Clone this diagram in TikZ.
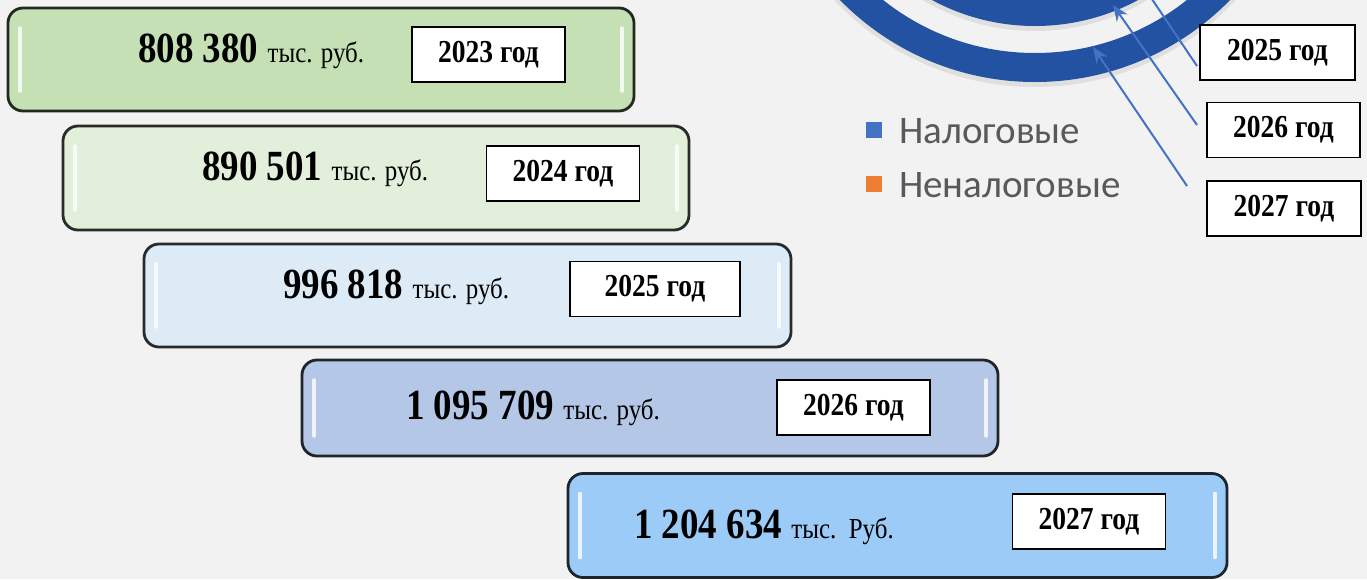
\documentclass[tikz,border=0pt]{standalone}
\usepackage{fontspec}
\setmainfont{Liberation Serif}[FakeStretch=0.86]
\newfontfamily\legendfamily{Carlito}
\usetikzlibrary{arrows.meta}

\definecolor{bgcol}{HTML}{F2F2F2}
\definecolor{barA}{HTML}{C5E0B4}
\definecolor{barB}{HTML}{E2EFDA}
\definecolor{barC}{HTML}{DDEBF7}
\definecolor{barD}{HTML}{B4C7E7}
\definecolor{barE}{HTML}{9DCBF8}
\definecolor{ringblue}{HTML}{2352A3}
\definecolor{taxblue}{HTML}{4472C4}
\definecolor{nontaxorange}{HTML}{ED7D31}
\definecolor{legendgrey}{HTML}{595959}

\newcommand{\valnum}{\fontsize{43}{45}\selectfont\bfseries}
\newcommand{\valunit}{\fontsize{29}{31}\selectfont\mdseries}
\newcommand{\yearsize}{\fontsize{32}{34}\selectfont\bfseries}

\tikzset{
  bar/.style={fill=#1, draw=black!82!#1, line width=2.8pt, rounded corners=15pt, inner sep=0pt,
    path picture={
      \draw[white, line width=3.5pt, line cap=round, opacity=.8]
        ([xshift=12pt,yshift=-20pt]path picture bounding box.north west) --
        ([xshift=12pt,yshift=20pt]path picture bounding box.south west);
      \draw[white, line width=3.5pt, line cap=round, opacity=.8]
        ([xshift=-12pt,yshift=-20pt]path picture bounding box.north east) --
        ([xshift=-12pt,yshift=20pt]path picture bounding box.south east);
    }},
  value/.style={anchor=base west, inner sep=0pt},
  yearbox/.style={draw=black, fill=white, line width=1.5pt, minimum width=153pt, minimum height=55pt,
    inner sep=0pt, font=\yearsize},
  pointer/.style={draw=taxblue, line width=2pt, -{Stealth[length=16pt,width=13pt]}},
  ring/.style={draw=ringblue, line width=#1},
  legendkey/.style={minimum size=15.5pt, inner sep=0pt},
  legendtext/.style={anchor=west, inner sep=0pt, text=legendgrey, font=\legendfamily\fontsize{39}{41}\selectfont}
}

\begin{document}
\begin{tikzpicture}[x=1pt, y=-1pt]
  \clip (0,0) rectangle (1367,579);
  \fill[bgcol] (0,0) rectangle (1367,579);

  % doughnut rings, top right
  \coordinate (ctr) at (1035,-191);
  \draw[black, opacity=.08, line width=33pt] ([yshift=-3pt]ctr) circle[radius=258.5pt];
  \draw[black, opacity=.08, line width=31pt] ([yshift=-3pt]ctr) circle[radius=203.5pt];
  \draw[ring=29pt] (ctr) circle[radius=258.5pt];
  \draw[ring=27pt] (ctr) circle[radius=203.5pt];

  % bars
  \node[bar=barA, minimum width=626pt, minimum height=103pt] (bar23) at (321,59.5) {};
  \node[bar=barB, minimum width=626pt, minimum height=104pt] (bar24) at (376,178) {};
  \node[bar=barC, minimum width=647pt, minimum height=103pt] (bar25) at (467.5,295.5) {};
  \node[bar=barD, minimum width=696pt, minimum height=96pt] (bar26) at (650,408) {};
  \node[bar=barE, minimum width=659pt, minimum height=104pt] (bar27) at (897.5,525.5) {};

  \node[value] (val23) at (138,62) {\valnum 808 380 \valunit тыс. руб.};
  \node[value] (val24) at (202,180) {\valnum 890 501 \valunit тыс. руб.};
  \node[value] (val25) at (283,298) {\valnum 996 818 \valunit тыс. руб.};
  \node[value] (val26) at (406,419) {\valnum 1 095 709 \valunit тыс. руб.};
  \node[value] (val27) at (634,538) {\valnum 1 204 634 \valunit тыс.\ \ Руб.};

  \node[yearbox] (yr23) at (488.5,54.5) {2023 год};
  \node[yearbox] (yr24) at (563,173.5) {2024 год};
  \node[yearbox, minimum width=170pt] (yr25) at (655,289) {2025 год};
  \node[yearbox] (yr26) at (853.5,407.5) {2026 год};
  \node[yearbox] (yr27) at (1089,521.5) {2027 год};

  % legend
  \node[legendkey, fill=taxblue] (keytax) at (874,130) {};
  \node[legendtext] (lbltax) at (899,131) {Налоговые};
  \node[legendkey, fill=nontaxorange] (keynontax) at (874,184) {};
  \node[legendtext] (lblnontax) at (899,185) {Неналоговые};

  % year labels with pointers into the rings
  \node[yearbox, minimum width=155pt] (ring25) at (1277.5,52.5) {2025 год};
  \node[yearbox] (ring26) at (1283.5,130) {2026 год};
  \node[yearbox, minimum width=154pt] (ring27) at (1284,208.5) {2027 год};

  \coordinate (from25) at (1197,66);
  \coordinate (to25) at (1131,-32);
  \coordinate (from26) at (1197,125);
  \coordinate (to26) at (1113,5);
  \coordinate (from27) at (1187,186);
  \coordinate (to27) at (1093,47);
  \draw[pointer] (from25) -- (to25);
  \draw[pointer] (from26) -- (to26);
  \draw[pointer] (from27) -- (to27);
\end{tikzpicture}
\end{document}
